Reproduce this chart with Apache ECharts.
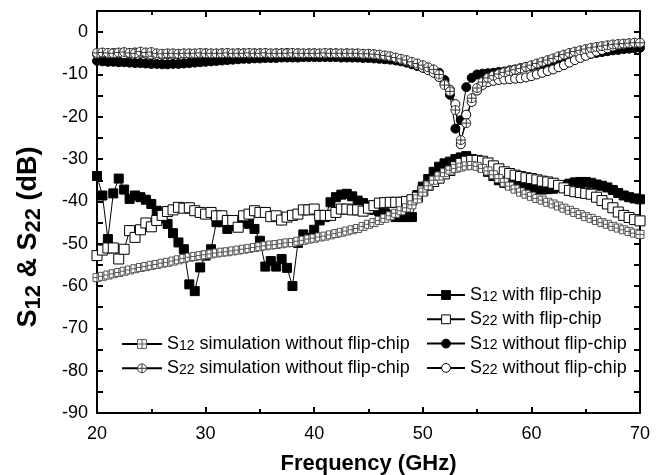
<!DOCTYPE html>
<html>
<head>
<meta charset="utf-8">
<script src="https://cdn.jsdelivr.net/npm/echarts@6/dist/echarts.min.js"></script>
<style>
  html, body { margin: 0; padding: 0; background: #fff; }
  #chart { width: 660px; height: 475px; }
</style>
</head>
<body>
<div id="chart"></div>
<script>
// frequency points (GHz)
var freq = [20,20.5,21,21.5,22,22.5,23,23.5,24,24.5,25,25.5,26,26.5,27,27.5,28,28.5,29,29.5,
  30,30.5,31,31.5,32,32.5,33,33.5,34,34.5,35,35.5,36,36.5,37,37.5,38,38.5,39,39.5,
  40,40.5,41,41.5,42,42.5,43,43.5,44,44.5,45,45.5,46,46.5,47,47.5,48,48.5,49,49.5,
  50,50.5,51,51.5,52,52.5,53,53.5,54,54.5,55,55.5,56,56.5,57,57.5,58,58.5,59,59.5,
  60,60.5,61,61.5,62,62.5,63,63.5,64,64.5,65,65.5,66,66.5,67,67.5,68,68.5,69,69.5,70];

// S12 with flip-chip (filled squares)
var s12Flip = [-34,-38.6,-48.9,-38.1,-34.6,-37.2,-39.4,-38.6,-39,-39.6,-40.6,-42.2,-44,-45.3,-47.5,-49.7,-51.3,-59.6,-61.2,-55.6,
  -52.8,-51.3,-44.9,-44.9,-46.5,-45.8,-44.9,-45,-45.3,-46.5,-49.3,-55.4,-54.1,-55.4,-53.6,-55.7,-60,-49.8,-47.8,-48.6,
  -46.7,-44.5,-43.7,-40.2,-39,-38.4,-38.2,-38.8,-39.8,-40.4,-41,-42,-42.4,-42.8,-43.2,-43.7,-43.7,-43.7,-43.7,-38.5,
  -36.5,-34.7,-33,-31.8,-31,-30.6,-30,-29.6,-29.3,-30,-31,-32,-33,-34,-35,-35.6,-36,-36.3,-36.5,-36.7,
  -37,-37.1,-37.2,-37.1,-37,-36.6,-36.2,-35.8,-35.5,-35.4,-35.4,-35.6,-36,-36.3,-36.7,-37.3,-38,-38.6,-39,-39.3,-39.5];

// S22 with flip-chip (open squares)
var s22Flip = [-52.8,-51.5,-51,-51,-53.6,-51.3,-46.9,-48.5,-46.7,-45.1,-46,-44.5,-43.3,-42.4,-42,-41.4,-41.6,-41.5,-42.2,-42.6,
  -43,-42.6,-43.4,-43.4,-44.5,-44.5,-46.1,-43.4,-43,-42.2,-42.6,-42.6,-43.6,-43.4,-44.4,-43.7,-43.3,-43,-42,-42,
  -41.8,-43.3,-43.3,-43.3,-42.6,-41.8,-41.8,-42,-42,-42.3,-41.6,-41,-40.4,-40.3,-40.2,-40.2,-40.2,-40,-39.6,-39,
  -37.5,-36.2,-35.3,-34.5,-33.5,-32.7,-31.8,-31,-30.5,-30.3,-30.3,-30.5,-30.9,-31.6,-32.3,-33,-33.4,-33.8,-34.1,-34.4,
  -34.6,-34.9,-35.2,-35.4,-35.7,-36.2,-36.8,-37.4,-37.7,-37.9,-38.1,-38.3,-39,-39.8,-40.6,-41.5,-42.5,-43.3,-43.8,-44.3,-44.6];

// S12 without flip-chip (filled circles)
var s12Bare = [-6.8,-6.9,-7,-7,-7.1,-7.1,-7.2,-7.3,-7.3,-7.4,-7.5,-7.5,-7.6,-7.6,-7.5,-7.5,-7.4,-7.3,-7.2,-7.1,
  -7,-6.9,-6.8,-6.7,-6.6,-6.5,-6.4,-6.3,-6.3,-6.2,-6.2,-6.1,-6.1,-6.1,-6,-6,-6,-6,-5.9,-5.9,
  -5.9,-5.9,-5.9,-5.9,-5.9,-6,-6,-6,-6,-6.1,-6.1,-6.2,-6.3,-6.4,-6.5,-6.7,-6.9,-7.2,-7.6,-8,
  -8.4,-8.8,-9.2,-9.6,-11.3,-14.8,-22.8,-20.8,-13,-10.8,-10,-9.8,-9.7,-9.6,-9.4,-9.3,-9,-8.8,-8.5,-8.2,
  -8,-7.7,-7.4,-7.1,-6.8,-6.6,-6.4,-6.2,-5.9,-5.6,-5.3,-5.1,-4.9,-4.7,-4.5,-4.3,-4.2,-4,-3.9,-3.8,-3.7];

// S22 without flip-chip (open circles)
var s22Bare = [-5.2,-5,-5.1,-4.9,-5,-5.2,-5,-4.8,-4.9,-5.1,-5.3,-5.4,-5.3,-5.2,-5.3,-5.2,-5.1,-5.2,-5.2,-5.1,
  -5,-5.1,-5.1,-5,-5,-5.1,-5,-5,-5.1,-5,-5,-5,-5.1,-5,-5,-4.9,-5,-5,-5.1,-5,
  -5,-5.1,-5.1,-5,-5,-5.1,-5,-5.1,-5.1,-5.2,-5.2,-5.3,-5.5,-5.7,-5.9,-6.2,-6.5,-6.9,-7.3,-7.8,
  -8.4,-9,-9.6,-10.6,-12.2,-13.6,-17,-26.5,-19.5,-16.5,-13.8,-12.5,-11.8,-11.5,-11.3,-11.2,-11.1,-11,-10.9,-10.7,
  -10.4,-10,-9.6,-9.2,-8.8,-8.3,-7.8,-7.2,-6.6,-6.1,-5.6,-5.1,-4.6,-4.2,-3.8,-3.4,-3.1,-2.9,-2.7,-2.6,-2.6];

// S12 simulation without flip-chip
var s12Sim = [-58,-57.7,-57.4,-57.1,-56.8,-56.5,-56.2,-55.9,-55.6,-55.4,-55.1,-54.9,-54.6,-54.4,-54.1,-53.8,-53.5,-53.2,-53,-52.8,
  -52.6,-52.4,-52.2,-52,-51.9,-51.7,-51.5,-51.3,-51.1,-50.9,-50.7,-50.5,-50.3,-50.2,-50,-49.8,-49.7,-49.4,-49.2,-48.9,
  -48.7,-48.4,-48.2,-47.9,-47.6,-47.3,-47,-46.7,-46.4,-45.9,-45.4,-45,-44.5,-44,-43.4,-42.8,-42.2,-41.5,-40.8,-39.4,
  -37.8,-36.3,-35,-34,-33.2,-32.6,-32.2,-31.9,-31.6,-31.5,-31.7,-32.2,-32.8,-33.7,-34.6,-35.5,-36.4,-37.1,-37.8,-38.3,
  -38.8,-39.3,-39.7,-40.2,-40.6,-41.1,-41.6,-42.1,-42.6,-43.1,-43.6,-44,-44.5,-45,-45.4,-45.9,-46.3,-46.7,-47.1,-47.5,-47.8];

// S22 simulation without flip-chip
var s22Sim = [-4.9,-4.8,-4.9,-5,-4.8,-4.7,-4.9,-5,-4.6,-4.8,-4.7,-5,-5.1,-5,-5,-5.1,-5,-5,-5,-4.9,
  -5,-5,-5,-5,-4.9,-5,-5,-5,-4.9,-5,-5,-4.9,-5,-5,-5,-5,-4.9,-5,-5,-5,
  -5,-5,-4.9,-5,-5,-5,-5,-5,-5,-5.1,-5.1,-5.2,-5.3,-5.5,-5.7,-6,-6.3,-6.6,-7,-7.4,
  -7.8,-8.3,-8.8,-10,-12.5,-14,-18.4,-25.5,-21.5,-15.6,-13.2,-11.8,-10.8,-10.3,-9.9,-9.5,-9.2,-8.9,-8.6,-8.2,
  -7.8,-7.4,-7,-6.6,-6.2,-5.7,-5.3,-4.9,-4.6,-4.3,-4,-3.7,-3.5,-3.3,-3.1,-2.9,-2.8,-2.7,-2.6,-2.5,-2.5];

var yTicks = [0,-10,-20,-30,-40,-50,-60,-70,-80,-90];

var FONT = 'Arial, "Liberation Sans", sans-serif';
var boxSym = 'path://M0,0L10,0L10,10L0,10Z M5,0L5,10 M0,5L10,5';
var ringSym = 'path://M10,5A5,5,0,1,1,0,5A5,5,0,1,1,10,5Z M5,0L5,10 M0,5L10,5';

function pts(arr) {
  return freq.map(function (f, i) { return [f, arr[i]]; });
}

function mk(name, arr, symbol, size, fill, stroke) {
  return {
    name: name,
    type: 'line',
    data: pts(arr),
    symbol: symbol,
    symbolSize: size,
    showAllSymbol: true,
    animation: false,
    lineStyle: { color: '#000', width: 1 },
    itemStyle: { color: fill, borderColor: stroke, borderWidth: 1, opacity: 1 },
    emphasis: { disabled: true }
  };
}

var frameTick = { show: true, inside: true, length: 6, lineStyle: { color: '#000', width: 2 } };
var frameLine = { show: true, onZero: false, lineStyle: { color: '#000', width: 2 } };
var legendText = {
  fontSize: 18, color: '#000', fontFamily: FONT, lineHeight: 18,
  rich: { s: { fontSize: 14, color: '#000', fontFamily: FONT, lineHeight: 18, verticalAlign: 'bottom' } }
};
function subName(n) { return n.replace(/^S(\d+)/, 'S{s|$1}'); }

var myChart = echarts.init(document.getElementById('chart'));
var option = {
  backgroundColor: '#fff',
  textStyle: { fontFamily: FONT },
  grid: { left: 97, right: 20, top: 11, bottom: 62, containLabel: false, outerBoundsMode: 'none' },
  legend: [{
    data: ['S12 with flip-chip', 'S22 with flip-chip', 'S12 without flip-chip', 'S22 without flip-chip'],
    orient: 'vertical', left: 421, top: 281,
    itemWidth: 38, itemHeight: 11, itemGap: 6.3,
    itemStyle: { borderWidth: 1 },
    formatter: subName,
    textStyle: legendText
  }, {
    data: ['S12 simulation without flip-chip', 'S22 simulation without flip-chip'],
    orient: 'vertical', left: 116, top: 330,
    itemWidth: 40, itemHeight: 11, itemGap: 6.3,
    itemStyle: { borderWidth: 1 },
    formatter: subName,
    textStyle: legendText
  }],
  xAxis: [{
    type: 'value', min: 20, max: 70, interval: 10, position: 'bottom',
    axisLine: frameLine, axisTick: frameTick,
    minorTick: { show: true, splitNumber: 2, length: 4, lineStyle: { color: '#000', width: 2 } },
    splitLine: { show: false },
    axisLabel: { color: '#000', fontSize: 18, margin: 12, fontFamily: FONT },
    name: 'Frequency (GHz)', nameLocation: 'middle', nameGap: 40,
    nameTextStyle: { color: '#000', fontSize: 22, fontWeight: 'bold', fontFamily: FONT }
  }, {
    type: 'value', min: 20, max: 70, interval: 10, position: 'top',
    axisLine: frameLine, axisTick: frameTick,
    minorTick: { show: true, splitNumber: 2, length: 4, lineStyle: { color: '#000', width: 2 } },
    splitLine: { show: false }, axisLabel: { show: false }
  }],
  yAxis: [{
    type: 'value', min: -90, max: 5, interval: 5, position: 'left',
    axisLine: frameLine, axisTick: frameTick,
    splitLine: { show: false },
    axisLabel: { color: '#000', fontSize: 18, margin: 9, fontFamily: FONT,
      formatter: function (v) { return yTicks.indexOf(v) >= 0 ? String(v) : ''; } },
    name: '{b|S}{s|12}{b| & S}{s|22}{b| (dB)}', nameLocation: 'middle', nameGap: 52,
    nameTextStyle: {
      color: '#000', padding: [0, 50, 0, 0],
      rich: {
        b: { fontSize: 27, fontWeight: 'bold', fontFamily: FONT, color: '#000', lineHeight: 32 },
        s: { fontSize: 22, fontWeight: 'bold', fontFamily: FONT, color: '#000', lineHeight: 32, verticalAlign: 'bottom' }
      }
    }
  }, {
    type: 'value', min: -90, max: 5, interval: 5, position: 'right',
    axisLine: frameLine, axisTick: frameTick,
    splitLine: { show: false }, axisLabel: { show: false }
  }],
  series: [
    mk('S12 with flip-chip', s12Flip, 'rect', 9, '#000', '#000'),
    mk('S22 with flip-chip', s22Flip, 'rect', 10, '#fff', '#000'),
    mk('S12 without flip-chip', s12Bare, 'circle', 9, '#000', '#000'),
    mk('S22 without flip-chip', s22Bare, 'circle', 9, '#fff', '#000'),
    mk('S12 simulation without flip-chip', s12Sim, boxSym, 8, '#fff', '#555'),
    mk('S22 simulation without flip-chip', s22Sim, ringSym, 9, '#fff', '#333')
  ]
};
myChart.setOption(option);
</script>
</body>
</html>
